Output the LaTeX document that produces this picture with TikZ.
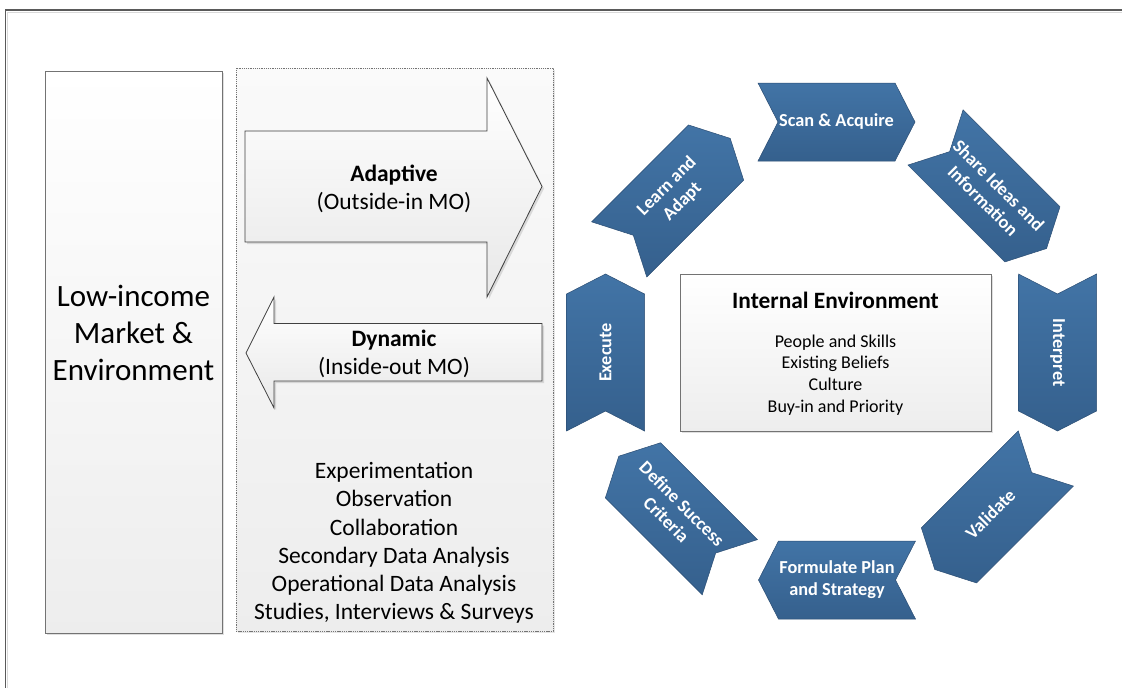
\documentclass[tikz,border=0pt]{standalone}
\usepackage{fontspec}
\setmainfont{Carlito}
\usetikzlibrary{shadows}
\definecolor{frameC}{HTML}{5A5A5A}
\definecolor{chevTop}{HTML}{4274A6}
\definecolor{chevBot}{HTML}{35608D}
\definecolor{chevEdge}{HTML}{2C4E74}
\begin{document}
\begin{tikzpicture}[x=1pt,y=1pt]
\tikzset{
  frameline/.style={draw=frameC, line width=1.2pt},
  panel/.style={draw=black!55, line width=0.7pt, top color=white, bottom color=black!7,
    drop shadow={shadow xshift=2pt, shadow yshift=-2pt, opacity=0.25}},
  dotpanel/.style={draw=black!55, line width=0.5pt, dash pattern=on 1.3pt off 0.9pt,
    top color=black!2, bottom color=black!7,
    drop shadow={shadow xshift=2pt, shadow yshift=-2pt, opacity=0.2}},
  bigarrow/.style={draw=black!75, line width=0.8pt, top color=white, bottom color=black!9,
    drop shadow={shadow xshift=2pt, shadow yshift=-2pt, opacity=0.25}},
  chevfill/.style={draw=chevEdge, line width=0.5pt, top color=chevTop, bottom color=chevBot},
  chevtext/.style={text=white, font=\bfseries\fontsize{18.3}{22}\selectfont, align=center, inner sep=0pt},
  chev/.pic={\path[chevfill] (-78.5,39) -- (58.5,39) -- (78.5,0) -- (58.5,-39) -- (-78.5,-39) -- (-58.5,0) -- cycle;},
  bigtext/.style={font=\fontsize{31}{37}\selectfont, align=center, inner sep=0pt},
  midtext/.style={font=\fontsize{23.5}{28.2}\selectfont, align=center, inner sep=0pt},
  smalltext/.style={font=\fontsize{18}{21.7}\selectfont, align=center, inner sep=0pt},
}
\useasboundingbox (0,0) rectangle (1122,-688);
\fill[white] (0,0) rectangle (1122,-688);
% outer frame
\draw[black!15, line width=1pt] (1122,-12) -- (7.5,-12) -- (7.5,-688);
\draw[frameline] (1122,-10) -- (5.5,-10) -- (5.5,-688);

% left box
\node[panel, minimum width=177pt, minimum height=562pt, inner sep=0pt] (market) at (133.5,-352) {};
\node[bigtext] (markettext) at (133.5,-333) {Low-income\\Market \&\\Environment};

% dotted panel
\node[dotpanel, minimum width=317pt, minimum height=563pt, inner sep=0pt] (mo) at (394.5,-349.5) {};

% adaptive arrow
\path[bigarrow] (245,-131) -- (487,-131) -- (487,-78) -- (542,-186.5) -- (487,-297) -- (487,-242) -- (245,-242) -- cycle;
\node[midtext] (adaptive) at (394,-189) {\textbf{Adaptive}\\(Outside-in MO)};

% dynamic arrow
\path[bigarrow] (246,-353) -- (274,-297) -- (274,-323.5) -- (542,-323.5) -- (542,-381) -- (274,-381) -- (274,-408) -- cycle;
\node[midtext] (dynamic) at (394,-354) {\textbf{Dynamic}\\(Inside-out MO)};

% methods
\node[midtext] (methods) at (394,-543) {Experimentation\\Observation\\Collaboration\\Secondary Data Analysis\\Operational Data Analysis\\Studies, Interviews \& Surveys};

% internal environment
\node[panel, minimum width=311pt, minimum height=157pt, inner sep=0pt] (internal) at (835.5,-352.5) {};
\node[font=\bfseries\fontsize{23.4}{28}\selectfont, inner sep=0pt] (inttitle) at (835.5,-300) {Internal Environment};
\node[smalltext] (intitems) at (835.5,-375) {People and Skills\\Existing Beliefs\\Culture\\Buy-in and Priority};

% chevrons
\pic[rotate=0] at (836.5,-122) {chev};
\node[chevtext] (scan) at (836.5,-122) {Scan \& Acquire};
\pic[rotate=-45] at (991,-193) {chev};
\node[chevtext, rotate=-45] (share) at (991,-193) {Share Ideas and\\Information};
\pic[rotate=-90] at (1057.5,-352.5) {chev};
\node[chevtext, rotate=-90] (interpret) at (1057.5,-352.5) {Interpret};
\pic[rotate=-135] at (990.3,-514) {chev};
\node[chevtext, rotate=45] (validate) at (990.3,-514) {Validate};
\pic[rotate=180] at (837,-580) {chev};
\node[chevtext] (formulate) at (837,-580) {Formulate Plan\\and Strategy};
\pic[rotate=135] at (674.3,-511.7) {chev};
\node[chevtext, rotate=-45] (define) at (674.3,-511.7) {Define Success\\Criteria};
\pic[rotate=90] at (605.5,-352.5) {chev};
\node[chevtext, rotate=90] (execute) at (605.5,-352.5) {Execute};
\pic[rotate=45] at (674.7,-193.9) {chev};
\node[chevtext, rotate=45] (learn) at (674.7,-193.9) {Learn and\\Adapt};
\end{tikzpicture}
\end{document}
